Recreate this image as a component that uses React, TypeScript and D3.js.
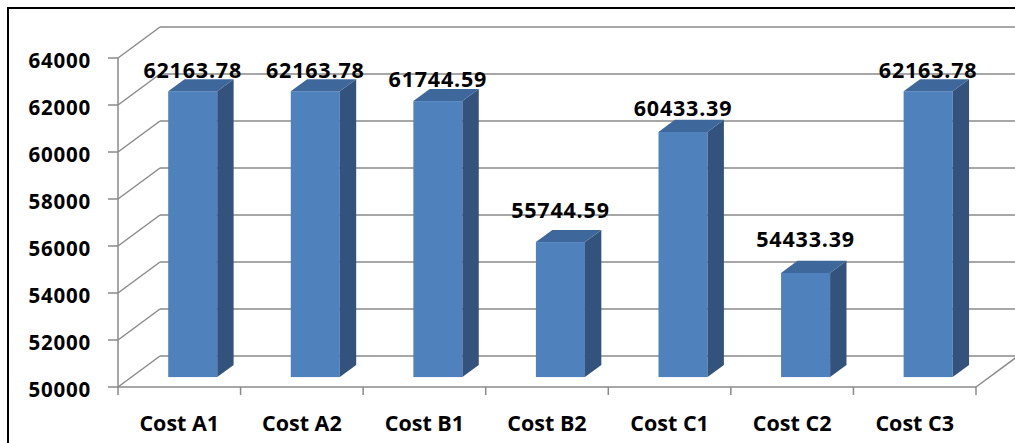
import * as React from 'react';
import * as d3 from 'd3';

const categories = ['Cost A1', 'Cost A2', 'Cost B1', 'Cost B2', 'Cost C1', 'Cost C2', 'Cost C3'];
const values = [62163.78, 62163.78, 61744.59, 55744.59, 60433.39, 54433.39, 62163.78];
const yTicks = [50000, 52000, 54000, 56000, 58000, 60000, 62000, 64000];

const W = 1015;
const H = 443;
const FONT = '"Open Sans", sans-serif';

const App: React.FC = () => {
  // front plane of the 3D box
  const plot = { left: 118, right: 976, top: 58, bottom: 387 };
  const depth = { dx: 42, dy: -31 };
  const barFront = 0.32;
  const barBack = 0.71;

  const x = d3.scaleBand<string>()
    .domain(categories)
    .range([plot.left, plot.right])
    .paddingInner(0.6)
    .paddingOuter(0.3);

  const y = d3.scaleLinear()
    .domain([yTicks[0], yTicks[yTicks.length - 1]])
    .range([plot.bottom, plot.top]);

  // Excel squeezes the label positions a little compared with the axis
  const yLabel = d3.scaleLinear()
    .domain(y.domain())
    .range([344, 38]);

  const step = x.step();
  const bounds = d3.range(categories.length + 1).map(i => plot.left + i * step);

  const grid = '#8a8a8a';

  const f1x = depth.dx * barFront, f1y = depth.dy * barFront;
  const ddx = depth.dx * (barBack - barFront), ddy = depth.dy * (barBack - barFront);

  return (
    <svg width={W} height={H} style={{ position: 'absolute', left: 0, top: 0, background: 'white' }}>
      <rect x={8} y={8} width={W + 10} height={H + 10} fill="white" stroke="black" strokeWidth={2} />

      {/* back wall gridlines */}
      {yTicks.map(t => (
        <line key={'bw' + t} x1={plot.left + depth.dx} x2={plot.right + depth.dx}
          y1={y(t) + depth.dy} y2={y(t) + depth.dy} stroke={grid} strokeWidth={1.5} />
      ))}
      {/* side wall gridlines */}
      {yTicks.map(t => (
        <line key={'sw' + t} x1={plot.left} x2={plot.left + depth.dx}
          y1={y(t)} y2={y(t) + depth.dy} stroke={grid} strokeWidth={1.5} />
      ))}
      {/* floor right edge */}
      <line x1={plot.right} y1={plot.bottom} x2={plot.right + depth.dx} y2={plot.bottom + depth.dy}
        stroke={grid} strokeWidth={1.5} />
      {/* axes */}
      <line x1={plot.left} x2={plot.left} y1={plot.top} y2={plot.bottom + 1} stroke={grid} strokeWidth={1.5} />
      <line x1={plot.left} x2={plot.right} y1={plot.bottom} y2={plot.bottom} stroke={grid} strokeWidth={1.5} />
      {yTicks.map(t => (
        <line key={'yt' + t} x1={plot.left - 10} x2={plot.left} y1={y(t)} y2={y(t)} stroke={grid} strokeWidth={1.5} />
      ))}
      {bounds.map((b, i) => (
        <line key={'xt' + i} x1={b} x2={b} y1={plot.bottom} y2={plot.bottom + 8} stroke={grid} strokeWidth={1.5} />
      ))}

      {/* bars */}
      {categories.map((c, i) => {
        const x0 = x(c)! + f1x;
        const x1 = x0 + x.bandwidth();
        const yt = y(values[i]) + f1y;
        const yb = plot.bottom + f1y;
        const top = `M${x0},${yt}L${x1},${yt}L${x1 + ddx},${yt + ddy}L${x0 + ddx},${yt + ddy}Z`;
        const side = `M${x1},${yt}L${x1 + ddx},${yt + ddy}L${x1 + ddx},${yb + ddy}L${x1},${yb}Z`;
        return (
          <g key={c}>
            <rect x={x0} y={yt} width={x1 - x0} height={yb - yt} fill="#4f81bd" />
            <path d={side} fill="#33537c" />
            <path d={top} fill="#3e689b" />
          </g>
        );
      })}

      {/* value labels */}
      {categories.map((c, i) => (
        <text key={'v' + c} x={x(c)! + f1x + x.bandwidth() / 2} y={yLabel(values[i])}
          textAnchor="middle" fontFamily={FONT} fontWeight="bold" fontSize={21.5}
          letterSpacing={0.8} fill="#000">
          {values[i].toFixed(2)}
        </text>
      ))}

      {/* y tick labels */}
      {yTicks.map(t => (
        <text key={'yl' + t} x={91} y={y(t) + 1.5} dominantBaseline="central" textAnchor="end"
          fontFamily={FONT} fontWeight="bold" fontSize={20.5} letterSpacing={0.8} fill="#000">
          {t}
        </text>
      ))}

      {/* category labels */}
      {categories.map(c => (
        <text key={'c' + c} x={x(c)! + x.bandwidth() / 2} y={431} textAnchor="middle"
          fontFamily={FONT} fontWeight="bold" fontSize={21.5} fill="#000">
          {c}
        </text>
      ))}
    </svg>
  );
};

export default App;
